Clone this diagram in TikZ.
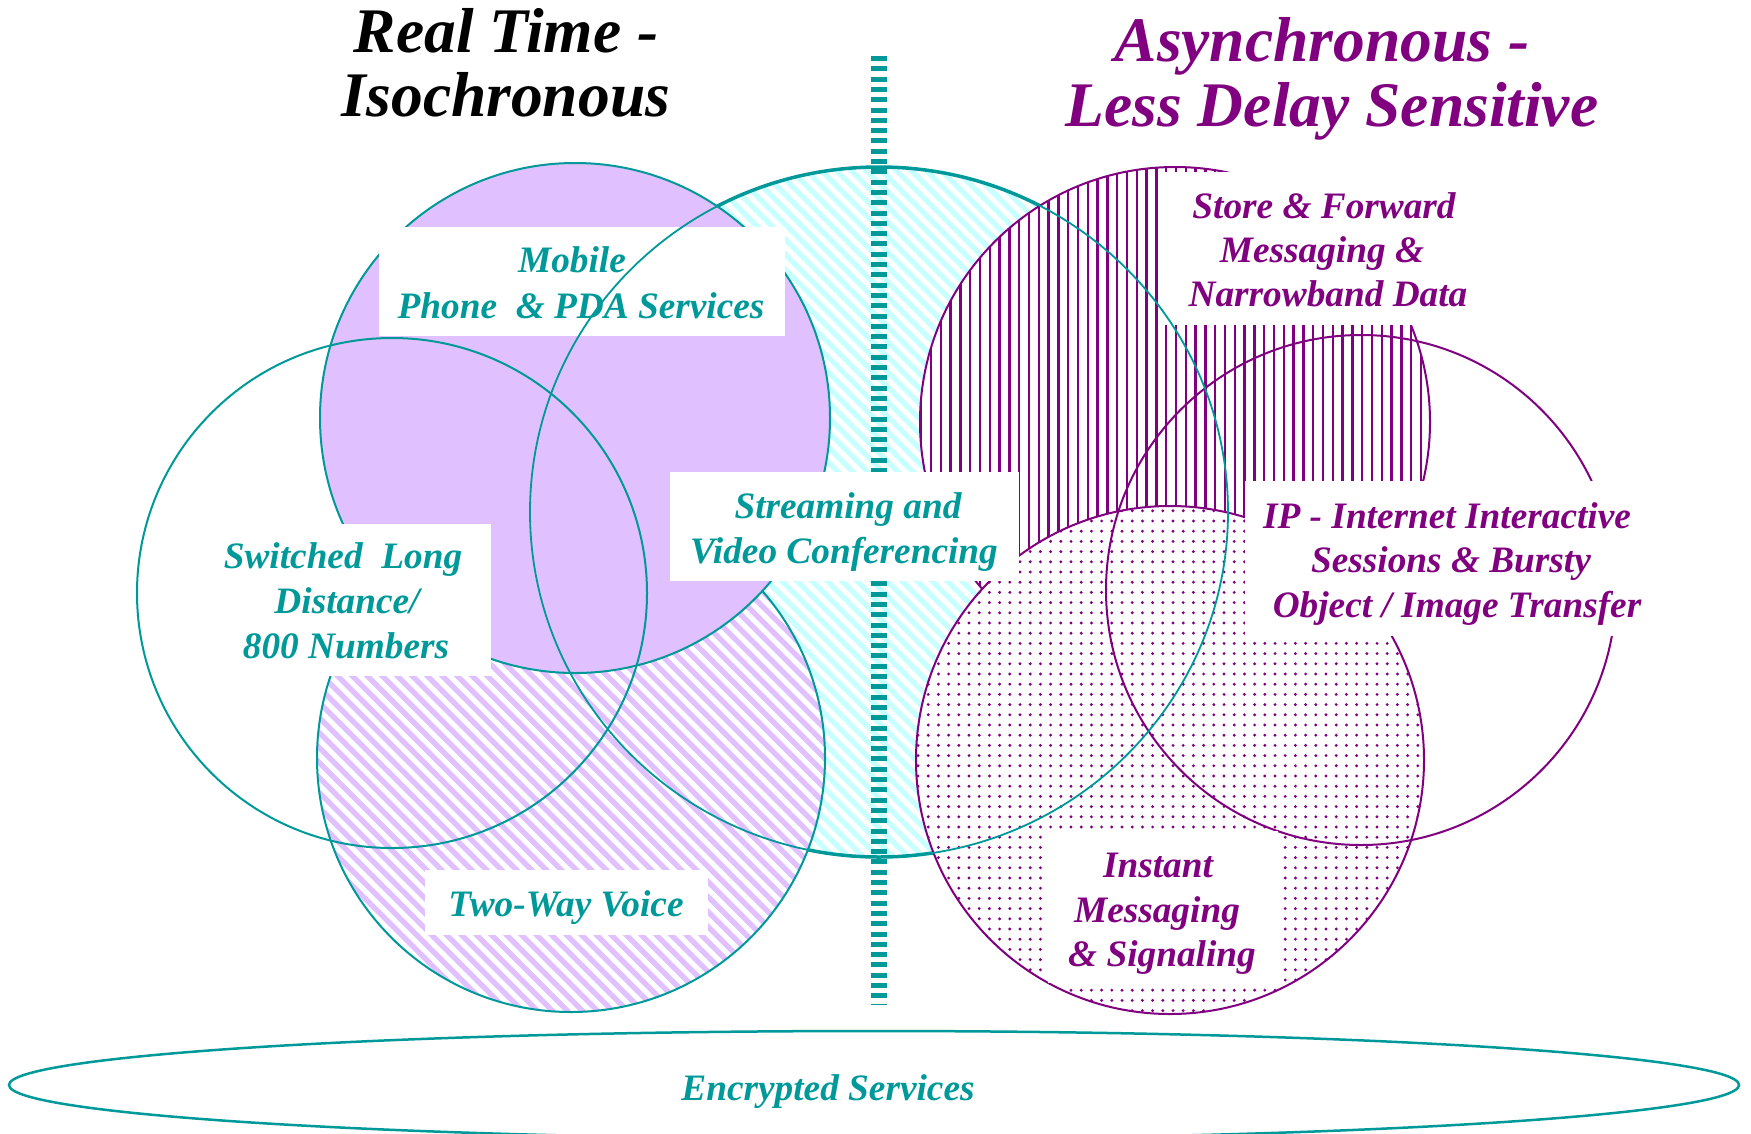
\documentclass[tikz,border=0pt]{standalone}
\usepackage{fontspec}
\setmainfont{Liberation Serif}
\usetikzlibrary{patterns.meta}
\definecolor{tealc}{RGB}{0,153,153}
\definecolor{purp}{RGB}{128,0,128}
\definecolor{lav}{RGB}{224,192,255}
\definecolor{cyanl}{RGB}{200,255,255}
\tikzset{
  cyanstripes/.style={pattern={Lines[angle=-45,distance=10.6pt,line width=5.3pt]},pattern color=cyanl},
  lavstripes/.style={pattern={Lines[angle=-45,distance=10.6pt,line width=5.3pt]},pattern color=lav},
  vstripes/.style={pattern={Lines[angle=90,distance=9.8pt,line width=2.3pt]},pattern color=purp},
  dotsfill/.style={pattern={Dots[distance=10.2pt,radius=1.6pt]},pattern color=purp},
  olT/.style={draw=tealc,line width=2pt},
  olP/.style={draw=purp,line width=2pt},
  lbl/.style={anchor=base,inner sep=0pt,font=\fontsize{37.3}{44}\selectfont\bfseries\itshape},
  ttl/.style={anchor=base,inner sep=0pt,font=\fontsize{63.5}{70}\selectfont\bfseries\itshape},
  tlab/.style={lbl,text=tealc},
  plab/.style={lbl,text=purp},
  whitebox/.style={fill=white}
}
\begin{document}
\begin{tikzpicture}[x=1pt,y=-1pt]
\useasboundingbox (0,0) rectangle (1751,1133);
\fill[white] (0,0) rectangle (1751,1133);
% Streaming and video conferencing
\fill[cyanstripes] (879,512) ellipse [x radius=349pt,y radius=345pt];
\draw[tealc,line width=3.5pt] (879,512) ellipse [x radius=349pt,y radius=345pt];
% Two-way voice
\fill[white] (571,758) circle [radius=254pt];
\fill[lavstripes] (571,758) circle [radius=254pt];
\draw[olT] (571,758) circle [radius=254pt];
% Mobile
\fill[lav] (575,418) circle [radius=255pt];
\draw[olT] (575,418) circle [radius=255pt];
% Switched long distance
\draw[olT] (392,593) circle [radius=255pt];
% Store and forward
\fill[white] (1175,422) circle [radius=255pt];
\fill[vstripes] (1175,422) circle [radius=255pt];
\draw[olP] (1175,422) circle [radius=255pt];
% Instant messaging
\fill[white] (1170,760) circle [radius=254pt];
\fill[dotsfill] (1170,760) circle [radius=254pt];
\draw[olP] (1170,760) circle [radius=254pt];
% IP
\draw[olP] (1361,590) circle [radius=255pt];
% divider bar
\coordinate (bartop) at (879,56);
\coordinate (barbot) at (879,1005);
\draw[tealc,line width=16pt,dash pattern=on 5pt off 5.3pt] (bartop) -- (barbot);
% label boxes
\fill[whitebox] (379,227) rectangle (785,336);
\fill[whitebox] (195,524) rectangle (491,676);
\fill[whitebox] (670,472) rectangle (1019,581);
\fill[whitebox] (425,870) rectangle (708,935);
\fill[whitebox] (1162,172) rectangle (1440,325);
\fill[whitebox] (1245,481) rectangle (1665,636);
\fill[whitebox] (1048,831) rectangle (1278,983);
% thin streaming outline on top
\draw[tealc,line width=1.8pt] (879,512) ellipse [x radius=349pt,y radius=345pt];
% encrypted services
\draw[tealc,line width=2.5pt] (874,1085) ellipse [x radius=865pt,y radius=54pt];
% titles
\node[ttl] (t1) at (506,52) {Real Time -};
\node[ttl] (t2) at (506,116) {Isochronous};
\node[ttl,text=purp] (t3) at (1322,61) {Asynchronous -};
\node[ttl,text=purp] (t4) at (1332,126) {Less Delay Sensitive};
% teal labels
\node[tlab] (m1) at (572,272) {Mobile};
\node[tlab] (m2) at (581,318) {Phone\ \ \& PDA Services};
\node[tlab] (s1) at (343,568) {Switched\ \ Long};
\node[tlab] (s2) at (347,613) {Distance/};
\node[tlab] (s3) at (346,658) {800 Numbers};
\node[tlab] (v1) at (848,518) {Streaming and};
\node[tlab] (v2) at (844,563) {Video Conferencing};
\node[tlab] (w1) at (566,916) {Two-Way Voice};
\node[tlab] (e1) at (828,1100) {Encrypted Services};
% purple labels
\node[plab] (f1) at (1324,218) {Store \& Forward};
\node[plab] (f2) at (1322,262) {Messaging \&};
\node[plab] (f3) at (1328,306) {Narrowband Data};
\node[plab] (i1) at (1447,528) {IP - Internet Interactive};
\node[plab] (i2) at (1451,572) {Sessions \& Bursty};
\node[plab] (i3) at (1457,617) {Object / Image Transfer};
\node[plab] (n1) at (1158,877) {Instant};
\node[plab] (n2) at (1157,922) {Messaging};
\node[plab] (n3) at (1162,966) {\& Signaling};
\end{tikzpicture}
\end{document}
